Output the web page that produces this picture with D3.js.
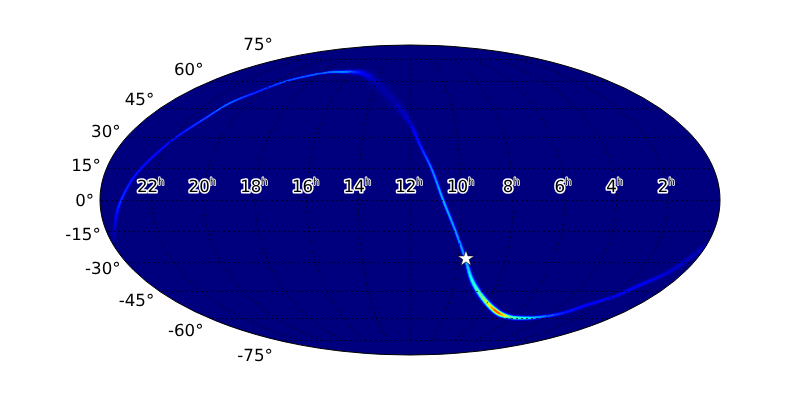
<!DOCTYPE html>
<html><head><meta charset="utf-8">
<style>html,body{margin:0;padding:0;background:#fff}svg{display:block}text{font-family:"DejaVu Sans";text-rendering:geometricPrecision}</style>
<script src="https://cdn.jsdelivr.net/npm/d3@7"></script></head>
<body><svg id="c" width="800" height="400"></svg>
<script>
// Sky-map ridge of the localisation band: right ascension (hours), declination (degrees),
// normalised probability (0-1 on the jet scale) and angular spread (degrees)
const ridgeRA  = [23.86,23.57,23.23,22.73,22.02,21.30,20.93,20.26,19.43,17.88,16.60,15.24,13.95,12.64,12.00,11.55,11.13,10.72,10.22,9.70,9.20,8.35,7.13,6.10,5.13,4.33,3.34,2.69,1.93,1.35,0.72,0.31,0.00];
const ridgeDec = [-19.0,-11.8,-1.4,12.7,27.7,40.3,47.8,54.0,60.6,65.5,66.3,65.5,59.3,46.8,37.3,25.3,14.2,0,-14.2,-27.7,-38.8,-48.4,-56.3,-59.3,-59.9,-59.3,-56.9,-52.3,-47.8,-41.4,-35.2,-27.7,-21.3];
const ridgeVal = [0.04,0.08,0.20,0.17,0.16,0.24,0.27,0.19,0.24,0.26,0.30,0.12,0.045,0.05,0.09,0.18,0.27,0.33,0.30,0.30,0.42,0.54,0.88,0.50,0.42,0.30,0.17,0.14,0.12,0.12,0.09,0.07,0.05];
const ridgeSpread = [0.8,0.8,0.6,0.5,0.45,0.4,0.38,0.42,0.38,0.38,0.55,1.2,2.4,2.0,1.0,0.6,0.6,0.6,0.6,0.7,0.95,1.05,1.0,0.8,0.7,0.6,0.6,0.65,0.7,0.8,0.9,1.0,1.1];
// Axis ticks
const latTicks = [75,60,45,30,15,0,-15,-30,-45,-60,-75];
const raTicks = [22,20,18,16,14,12,10,8,6,4,2];
// Marked source position
const starRA = [9.66];
const starDec = [-28.0];

const W=800,H=400,cx=410,cy=200,rx=310;
const svg=d3.select('#c');

function mollweideRaw(l,p){
  let t=p;
  if(Math.abs(Math.abs(p)-Math.PI/2)<1e-9){t=p;}
  else for(let i=0;i<40;i++){const d=(t*2+Math.sin(2*t)-Math.PI*Math.sin(p))/(2+2*Math.cos(2*t));t-=d;if(Math.abs(d)<1e-9)break;}
  return [2*Math.SQRT2/Math.PI*l*Math.cos(t),Math.SQRT2*Math.sin(t)];
}
const proj=d3.geoProjection(mollweideRaw).scale(rx/(2*Math.SQRT2)).translate([cx,cy]).precision(0.2);
const path=d3.geoPath(proj);
const raToLon=h=>(12-h)*15;
const sky=(h,d)=>proj([raToLon(h),d]);

const jetStops=[[0,'#00007f'],[0.11,'#0000ff'],[0.125,'#0000ff'],[0.35,'#00e0ff'],[0.375,'#00ffff'],[0.64,'#ffff00'],[0.91,'#ff0000'],[1,'#7f0000']];
const jet=d3.scaleLinear().domain(jetStops.map(d=>d[0])).range(jetStops.map(d=>d[1])).clamp(true);

const defs=svg.append('defs');
defs.append('clipPath').attr('id','sky').append('path').datum({type:'Sphere'}).attr('d',path);
const gray=defs.append('filter').attr('id','gray').attr('filterUnits','userSpaceOnUse')
  .attr('x',0).attr('y',0).attr('width',W).attr('height',H);
gray.append('feOffset').attr('dx',0).attr('dy',0);

// sky background
svg.append('path').datum({type:'Sphere'}).attr('d',path).attr('fill',jet(0));

// heat band: nested level bands of a Gaussian cross-section
const pts=ridgeRA.map((h,i)=>{const p=sky(h,ridgeDec[i]);return {x:p[0],y:p[1],v:ridgeVal[i],s:ridgeSpread[i]*rx/180};});
function cr(a,b,c,d,t){return 0.5*(2*b+(c-a)*t+(2*a-5*b+4*c-d)*t*t+(3*b-a-3*c+d)*t*t*t);}
const fine=[];
for(let i=0;i<pts.length-1;i++){
  const p0=pts[Math.max(i-1,0)],p1=pts[i],p2=pts[i+1],p3=pts[Math.min(i+2,pts.length-1)];
  for(let k=0;k<5;k++){const t=k/5;
    fine.push({x:cr(p0.x,p1.x,p2.x,p3.x,t),y:cr(p0.y,p1.y,p2.y,p3.y,t),v:p1.v+(p2.v-p1.v)*t,s:p1.s+(p2.s-p1.s)*t});}
}
fine.push(pts[pts.length-1]);
const levels=d3.range(0.01,0.98,0.02);
const band=svg.append('g').attr('clip-path','url(#sky)').attr('fill','none').attr('stroke-linecap','round');
levels.forEach(l=>{
  for(let i=0;i<fine.length-1;i++){
    const a=fine[i],b=fine[i+1],v=(a.v+b.v)/2,s=(a.s+b.s)/2;
    if(v<=l)continue;
    band.append('line').attr('x1',a.x).attr('y1',a.y).attr('x2',b.x).attr('y2',b.y)
      .attr('stroke',jet(l)).attr('stroke-width',2*s*Math.sqrt(2*Math.log(v/l)));
  }
});

// graticule: parallels snapped to the pixel grid, meridians along the projection
const grid=svg.append('g').attr('clip-path','url(#sky)').attr('fill','none').attr('stroke','#000').attr('stroke-opacity',0.7).attr('stroke-width',1).attr('stroke-dasharray','2,3');
const hline=d3.line();
latTicks.forEach(la=>{
  const [x0,y]=proj([-179.9,la]),[x1]=proj([179.9,la]);
  const yy=Math.floor(y)+0.5;
  grid.append('path').attr('d',hline([[Math.round(x0)+1,yy],[Math.round(x1),yy]]));
});
const meridians=d3.range(-150,151,30).map(lo=>d3.range(-75,75.1,5).map(la=>[lo,la]));
grid.append('path').datum({type:'MultiLineString',coordinates:meridians}).attr('d',path);

// outline
svg.append('path').datum({type:'Sphere'}).attr('d',path).attr('fill','none').attr('stroke','#000').attr('stroke-width',1);

// declination labels
const fmt=d=>d+'\u00b0';
svg.append('g').attr('filter','url(#gray)').selectAll('text').data(latTicks).join('text')
  .attr('x',d=>proj([-179.9,d])[0]-6).attr('y',d=>proj([-179.9,d])[1]-d*0.2)
  .attr('text-anchor','end').attr('dominant-baseline','central')
  .attr('font-size',16.67).attr('fill','#000').text(fmt);

// RA labels
const hourG=svg.append('g').attr('filter','url(#gray)');
raTicks.forEach(h=>{
  const p=proj([raToLon(h),0]);
  const t=hourG.append('text').attr('x',p[0]-1-(h<10?1:0)).attr('y',p[1]-8)
    .attr('text-anchor','middle').attr('font-size',16.67)
    .attr('fill','#000').attr('stroke','#fff').attr('stroke-width',3).attr('stroke-linejoin','round').attr('paint-order','stroke');
  t.append('tspan').text(h);
  t.append('tspan').attr('font-size',10).attr('stroke-width',1.6).attr('dy',-7.5).text('h');
});

// source marker
const star=sky(starRA[0],starDec[0]);
svg.append('path').attr('d',d3.symbol(d3.symbolStar,85)()).attr('transform',`translate(${star[0]},${star[1]})`)
  .attr('fill','#fff').attr('stroke','#000').attr('stroke-width',0.6);
</script></body></html>
